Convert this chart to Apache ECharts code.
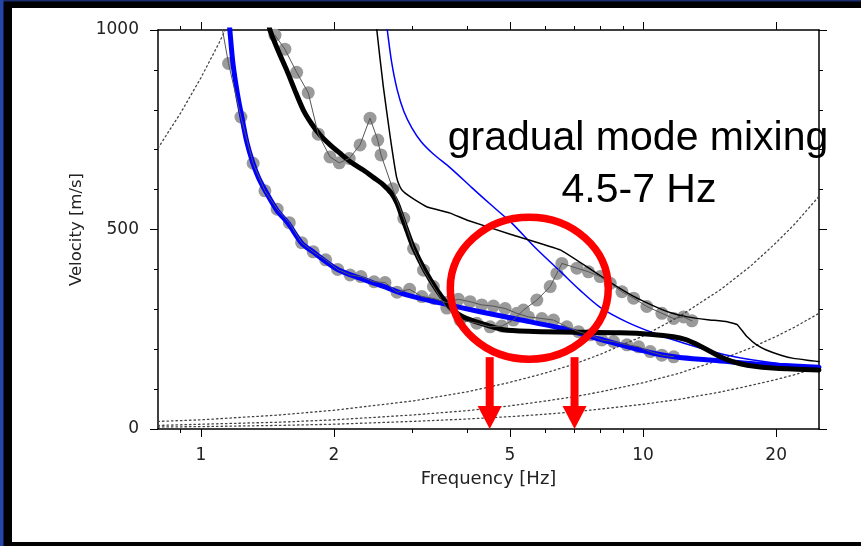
<!DOCTYPE html>
<html>
<head>
<meta charset="utf-8">
<script src="https://cdn.jsdelivr.net/npm/echarts@6/dist/echarts.min.js"></script>
<style>
  html, body { margin: 0; padding: 0; background: #fff; }
  #chart { width: 861px; height: 546px; }
</style>
</head>
<body>
<div id="chart"></div>
<script>
// Tick values of the logarithmic frequency axis
const freqMajorTicks = [1, 2, 5, 10, 20];
const freqMinorTicks = [0.9, 3, 4, 6, 7, 8, 9];

// Picked dispersion points, fundamental branch (Hz, m/s)
const fundFreq = [1.10, 1.155, 1.232, 1.313, 1.396, 1.488, 1.585, 1.690, 1.795, 1.915, 2.039, 2.175, 2.302, 2.464, 2.609, 2.778, 2.965, 3.161, 3.369, 3.595, 3.823, 4.063, 4.318, 4.587, 4.877, 5.183, 5.507, 5.904, 6.272, 6.725, 7.145, 7.596, 8.07, 8.576, 9.195, 9.77, 10.38, 11.03, 11.73];
const fundVel  = [1047, 916, 782, 666, 597, 551, 517, 467, 444, 424, 400, 386, 382, 369, 367, 343, 350, 332, 327, 317, 325, 319, 311, 308, 302, 290, 281, 277, 273, 256, 244, 236, 223, 219, 211, 206, 194, 185, 181];

// Picked dispersion points, higher branch (Hz, m/s)
const highFreq = [1.471, 1.549, 1.647, 1.749, 1.843, 1.959, 2.056, 2.166, 2.291, 2.413, 2.512, 2.555, 2.716, 2.877, 3.027, 3.189, 3.357, 3.6, 3.857, 4.208, 4.51, 4.792, 5.091, 5.364, 5.752, 6.166, 6.385, 6.553, 7.087, 7.527, 8.0, 8.43, 8.96, 9.52, 10.2, 11.03, 11.73, 12.35, 12.9];
const highVel  = [987, 952, 894, 843, 739, 682, 667, 678, 712, 779, 724, 687, 602, 528, 452, 398, 357, 303, 273, 265, 256, 258, 273, 298, 323, 357, 390, 415, 403, 394, 382, 365, 344, 328, 307, 290, 277, 281, 271];

// Theoretical fundamental mode (thick blue)
const mode0Freq = [1.155, 1.163, 1.182, 1.21, 1.238, 1.27, 1.311, 1.35, 1.396, 1.484, 1.574, 1.69, 1.793, 2.03, 2.29, 2.58, 2.92, 3.47, 4.28, 5.2, 6.5, 8.0, 10.55, 12.0, 14.2, 18.0, 25.0];
const mode0Vel  = [1040, 1000, 916, 840, 782, 720, 667, 630, 599, 549, 516, 466, 444, 401, 378, 358, 336, 316, 294, 275, 253, 225, 190, 180, 173, 163, 155];

// Theoretical first higher mode (thick black)
const mode1Freq = [1.42, 1.433, 1.50, 1.563, 1.63, 1.704, 1.78, 1.86, 1.96, 2.064, 2.19, 2.33, 2.46, 2.586, 2.70, 2.78, 2.85, 2.93, 3.02, 3.21, 3.42, 3.6, 3.75, 3.9, 4.1, 4.5, 4.83, 5.5, 6.5, 8.88, 10.5, 11.71, 12.5, 13.0, 14.0, 14.95, 16.0, 17.2, 20.0, 25.0];
const mode1Vel  = [1030, 1000, 945, 900, 850, 800, 765, 737, 712, 691, 668, 649, 630, 612, 590, 565, 532, 495, 457, 398, 348, 315, 295, 282, 272, 258, 249, 245, 243, 241, 237, 231, 224, 216, 198, 181, 168, 160, 152, 148];

// Theoretical second higher mode (thin black)
const mode2Freq = [2.49, 2.50, 2.586, 2.68, 2.77, 2.82, 2.87, 2.94, 3.05, 3.24, 3.66, 3.99, 5.05, 6.5, 7.5, 8.5, 9.5, 10.5, 11.5, 12.6, 14.0, 15.5, 16.3, 16.8, 17.2, 18.0, 19.0, 20.5, 21.9, 25.0];
const mode2Vel  = [1050, 1000, 858, 733, 632, 607, 595, 586, 574, 557, 541, 524, 487, 449, 405, 365, 333, 310, 292, 281, 274, 269, 262, 245, 231, 212, 198, 185, 177, 169];

// Theoretical mode (thin blue)
const mode3Freq = [2.62, 2.64, 2.70, 2.78, 2.88, 3.0, 3.15, 3.35, 3.66, 4.1, 4.55, 5.05, 5.7, 6.5, 7.2, 8.0, 9.2, 10.6, 12.14, 15.5, 20.0, 25.0];
const mode3Vel  = [1030, 1000, 920, 850, 795, 755, 720, 690, 655, 605, 560, 516, 455, 395, 348, 305, 268, 240, 218, 185, 165, 156];

// Wavenumber limits (dotted)
const limitAFreq = [0.8, 0.9, 1.0, 1.1, 1.16];
const limitAVel  = [704, 792, 880, 968, 1021];
const limitBFreq = [0.8, 1, 1.5, 2, 3, 4, 5, 6, 7, 8, 10, 12, 15, 17.5, 20, 22, 25];
const limitBVel  = [19, 23, 35, 47, 70, 93, 117, 140, 163, 187, 233, 280, 350, 408, 467, 513, 583];
const limitCFreq = [0.8, 1, 1.5, 2, 3, 4, 5, 6, 7, 8, 10, 12, 15, 17.5, 20, 22, 25];
const limitCVel  = [9, 12, 17, 23, 35, 46, 58, 70, 81, 93, 116, 139, 174, 203, 232, 255, 290];
const limitDFreq = [0.8, 1, 1.5, 2, 3, 4, 5, 6, 7, 8, 10, 12, 15, 17.5, 20, 22, 25];
const limitDVel  = [5, 6, 9, 12, 19, 25, 31, 37, 43, 50, 62, 74, 93, 109, 124, 136, 155];

// Annotated mixing band (Hz)
const mixLow = 4.5;
const mixHigh = 7;

const pairs = (fs, vs) => fs.map((f, i) => [f, vs[i]]);

const labelFont = { fontFamily: 'DejaVu Sans', fontSize: 17, color: '#222' };

function freqAxis(position, ticks, len, showLine, showLabel) {
  return {
    type: 'log', logBase: 10, min: 0.8, max: 25, position: position,
    axisLine: { show: showLine, lineStyle: { color: '#000', width: 1.5 } },
    axisTick: { show: true, customValues: ticks, length: len, lineStyle: { color: '#000', width: 1 } },
    axisLabel: showLabel ? Object.assign({ show: true, customValues: ticks, margin: 18 }, labelFont) : { show: false },
    splitLine: { show: false }, minorTick: { show: false }
  };
}

function velAxis(position, showLabel) {
  return {
    type: 'value', min: 0, max: 1000, interval: 500, position: position,
    axisLine: { show: true, lineStyle: { color: '#000', width: 1.5 } },
    axisTick: { show: true, length: 8, lineStyle: { color: '#000', width: 1 } },
    minorTick: { show: true, splitNumber: 5, length: 4, lineStyle: { color: '#000', width: 1 } },
    axisLabel: showLabel ? Object.assign({ show: true, margin: 19, formatter: v => String(v) }, labelFont) : { show: false },
    splitLine: { show: false }
  };
}

const xMain = freqAxis('bottom', freqMajorTicks, 8, true, true);
xMain.name = 'Frequency [Hz]';
xMain.nameLocation = 'middle';
xMain.nameGap = 41;
xMain.nameTextStyle = { fontFamily: 'DejaVu Sans', fontSize: 18, color: '#222' };

const yMain = velAxis('left', true);
yMain.name = 'Velocity [m/s]';
yMain.nameLocation = 'middle';
yMain.nameGap = 62;
yMain.nameTextStyle = { fontFamily: 'DejaVu Sans', fontSize: 16.5, color: '#222' };

function curve(data, color, width, type, smooth) {
  return {
    type: 'line', data: data, showSymbol: false, symbol: 'none', clip: true, silent: true,
    smooth: smooth || false,
    lineStyle: { color: color, width: width, type: type || 'solid', cap: 'round', join: 'round' },
    xAxisIndex: 0, yAxisIndex: 0
  };
}

function dots(data) {
  return {
    type: 'scatter', data: data, symbol: 'circle', symbolSize: 13, clip: true, silent: true,
    itemStyle: { color: '#9a9a9a', opacity: 1 }, xAxisIndex: 0, yAxisIndex: 0
  };
}

const dotted = [1.5, 3];

const option = {
  animation: false,
  backgroundColor: '#ffffff',
  grid: { left: 158, top: 30, width: 661, height: 399, containLabel: false },
  xAxis: [
    xMain,
    freqAxis('bottom', freqMinorTicks, 4, false, false),
    freqAxis('top', freqMajorTicks, 8, true, false),
    freqAxis('top', freqMinorTicks, 4, false, false)
  ],
  yAxis: [yMain, velAxis('right', false)],
  series: [
    curve(pairs(limitAFreq, limitAVel), '#444', 1.3, dotted),
    curve(pairs(limitBFreq, limitBVel), '#444', 1.3, dotted),
    curve(pairs(limitCFreq, limitCVel), '#444', 1.3, dotted),
    curve(pairs(limitDFreq, limitDVel), '#444', 1.3, dotted),
    curve(pairs(mode0Freq, mode0Vel), '#0000ff', 5, null, 0.3),
    curve(pairs(mode3Freq, mode3Vel), '#0000ff', 1.5, null, 0.3),
    curve(pairs(mode1Freq, mode1Vel), '#000000', 5, null, 0.25),
    curve(pairs(mode2Freq, mode2Vel), '#000000', 1.5, null, 0.1),
    dots(pairs(fundFreq, fundVel)),
    dots(pairs(highFreq, highVel)),
    curve(pairs(fundFreq, fundVel), '#555', 1),
    curve(pairs(highFreq, highVel), '#555', 1)
  ]
};

const chart = echarts.init(document.getElementById('chart'), null, { renderer: 'canvas' });
chart.setOption(option);

// Slide frame, red mixing annotation and caption
const px = (f, v) => chart.convertToPixel({ xAxisIndex: 0, yAxisIndex: 0 }, [f, v]);
const ringCenter = px(5.53, 353);
const ringRx = 79, ringRy = 71;
const ringBottom = ringCenter[1] + ringRy;
const red = '#ff0000';

function arrow(f) {
  const tip = px(f, 0);
  const headTop = tip[1] - 23;
  return [
    { type: 'rect', z: 100, shape: { x: tip[0] - 4, y: ringBottom - 2, width: 8, height: headTop - ringBottom + 3 }, style: { fill: red } },
    { type: 'polygon', z: 100, shape: { points: [[tip[0] - 12, headTop], [tip[0] + 12, headTop], [tip[0], tip[1]]] }, style: { fill: red } }
  ];
}

const graphics = [
  { type: 'rect', z: 100, shape: { x: 0, y: 0, width: 861, height: 8 }, style: { fill: '#000' } },
  { type: 'rect', z: 101, shape: { x: 0, y: 0, width: 861, height: 1.5 }, style: { fill: '#1b2d6e' } },
  { type: 'rect', z: 100, shape: { x: 0, y: 542, width: 861, height: 4 }, style: { fill: '#000' } },
  { type: 'rect', z: 100, shape: { x: 0, y: 0, width: 12, height: 546 }, style: { fill: '#000' } },
  { type: 'rect', z: 101, shape: { x: 0, y: 0, width: 3.5, height: 546 }, style: { fill: '#2446a6' } },
  { type: 'ellipse', z: 100, shape: { cx: ringCenter[0], cy: ringCenter[1], rx: ringRx, ry: ringRy }, style: { fill: 'none', stroke: red, lineWidth: 7.5 } }
].concat(arrow(mixLow), arrow(mixHigh), [
  { type: 'text', z: 102, style: { text: 'gradual mode mixing', x: 638, y: 139, align: 'center', verticalAlign: 'middle', fontFamily: 'Liberation Sans', fontSize: 41, fill: '#000' } },
  { type: 'text', z: 102, style: { text: mixLow + '-' + mixHigh + ' Hz', x: 639, y: 191, align: 'center', verticalAlign: 'middle', fontFamily: 'Liberation Sans', fontSize: 41, fill: '#000' } }
]);

chart.setOption({ graphic: graphics });
</script>
</body>
</html>
